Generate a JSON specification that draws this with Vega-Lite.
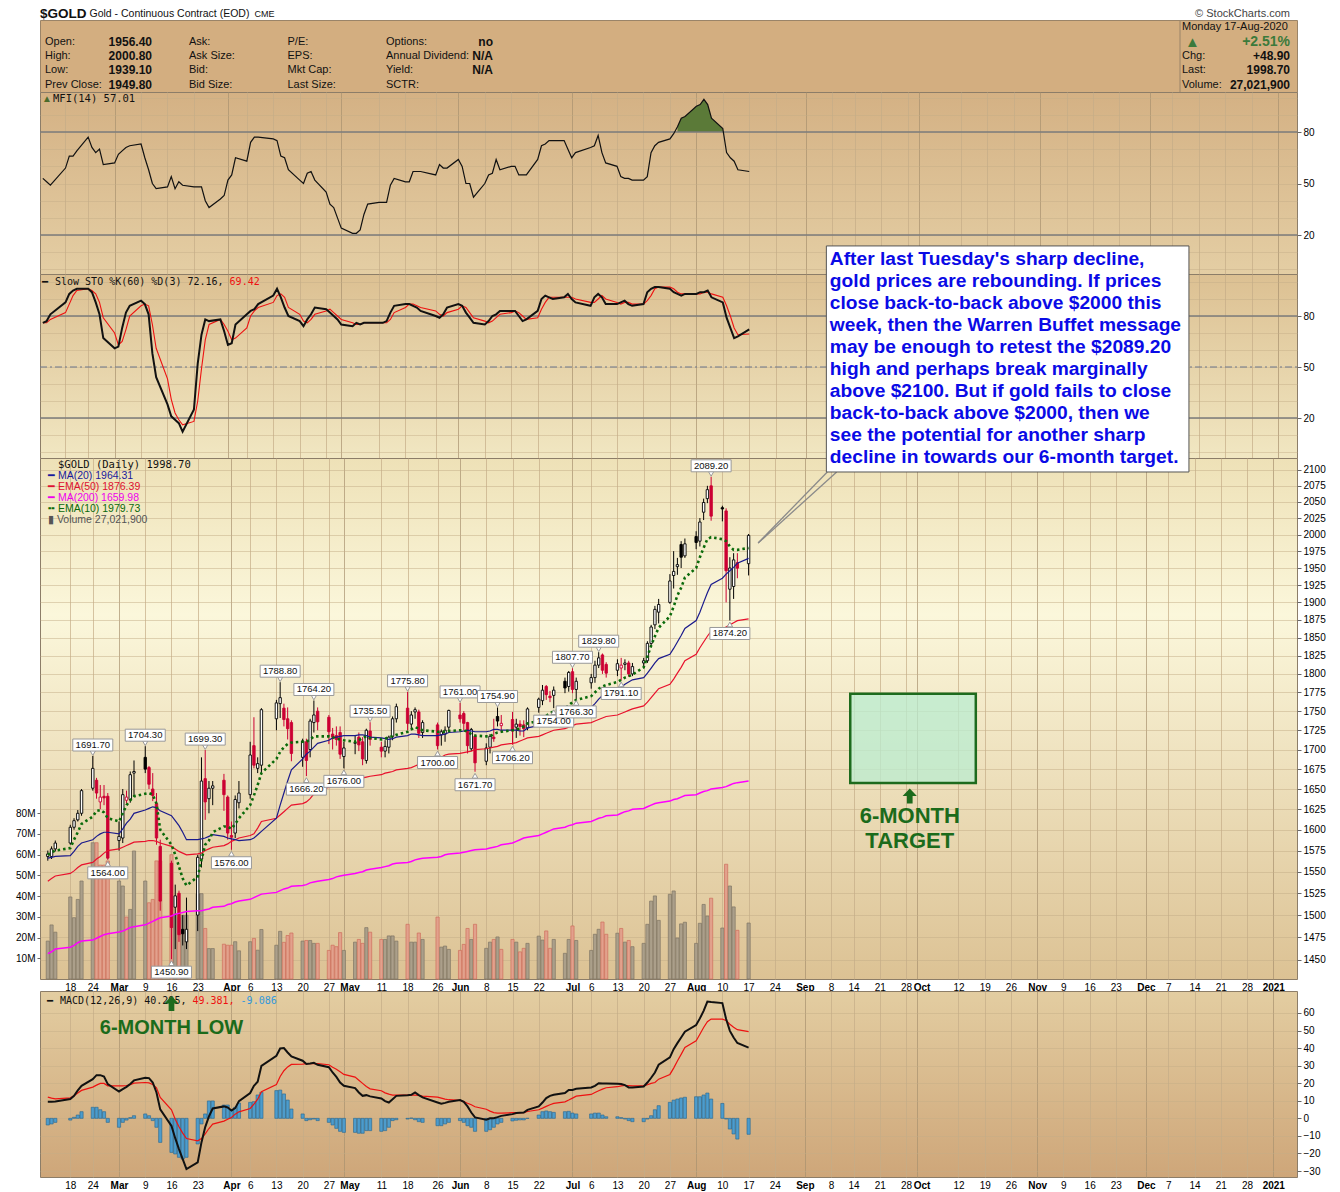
{
  "$schema": "https://vega.github.io/schema/vega-lite/v6.json",
  "background": "white",
  "padding": {"left": 15, "top": 6, "right": 14, "bottom": 0},
  "params": [
    {"name": "wk", "expr": "[utc(2020,1,18),utc(2020,1,24),utc(2020,2,2),utc(2020,2,9),utc(2020,2,16),utc(2020,2,23),utc(2020,3,1),utc(2020,3,6),utc(2020,3,13),utc(2020,3,20),utc(2020,3,27),utc(2020,4,1),utc(2020,4,11),utc(2020,4,18),utc(2020,4,26),utc(2020,5,1),utc(2020,5,8),utc(2020,5,15),utc(2020,5,22),utc(2020,6,1),utc(2020,6,6),utc(2020,6,13),utc(2020,6,20),utc(2020,6,27),utc(2020,7,3),utc(2020,7,10),utc(2020,7,17),utc(2020,7,24),utc(2020,8,1),utc(2020,8,8),utc(2020,8,14),utc(2020,8,21),utc(2020,8,28),utc(2020,9,1),utc(2020,9,12),utc(2020,9,19),utc(2020,9,26),utc(2020,10,2),utc(2020,10,9),utc(2020,10,16),utc(2020,10,23),utc(2020,11,1),utc(2020,11,7),utc(2020,11,14),utc(2020,11,21),utc(2020,11,28),utc(2021,0,4)]"}
  ],
  "config": {
    "font": "Liberation Sans",
    "axis": {"labelFont": "Liberation Sans", "labelFontSize": 10, "labelColor": "#000000", "domain": false, "tickColor": "#666666", "tickSize": 4, "labelPadding": 2, "labelOverlap": false},
    "view": {"stroke": "#8c7d68"},
    "text": {"font": "Liberation Sans"}
  },
  "datasets": {
    "gold": [
      {"date":"2020-02-12","open":1568,"high":1575,"low":1563,"close":1571,"volume":18.3,"ema10":1570,"ma20":1566,"ema50":1539,"ma200":1457,"mfi":53,"k":76,"d":76,"macd":9.4,"signal":12.1,"hist":-3.8},
      {"date":"2020-02-13","open":1568,"high":1580,"low":1565,"close":1577,"volume":26.1,"ema10":1573,"ma20":1567,"ema50":1542,"ma200":1459,"mfi":51,"k":77,"d":76,"macd":9.4,"signal":11.5,"hist":-3.2},
      {"date":"2020-02-14","open":1577,"high":1587,"low":1574,"close":1584,"volume":22.6,"ema10":1575,"ma20":1568,"ema50":1545,"ma200":1462,"mfi":49,"k":81,"d":78,"macd":9.6,"signal":11.1,"hist":-2.3},
      {"date":"2020-02-18","open":1584,"high":1606,"low":1582,"close":1603,"volume":39.6,"ema10":1578,"ma20":1569,"ema50":1548,"ma200":1464,"mfi":59,"k":88,"d":82,"macd":11,"signal":11.7,"hist":-1},
      {"date":"2020-02-19","open":1603,"high":1614,"low":1600,"close":1611,"volume":29.6,"ema10":1588,"ma20":1574,"ema50":1551,"ma200":1466,"mfi":66,"k":93,"d":87,"macd":12.8,"signal":12.8,"hist":0.6},
      {"date":"2020-02-20","open":1612,"high":1624,"low":1610,"close":1620,"volume":38.4,"ema10":1597,"ma20":1580,"ema50":1555,"ma200":1469,"mfi":66,"k":95,"d":92,"macd":15.9,"signal":14.4,"hist":1.9},
      {"date":"2020-02-21","open":1620,"high":1650,"low":1617,"close":1648,"volume":47.3,"ema10":1607,"ma20":1584,"ema50":1558,"ma200":1471,"mfi":69,"k":96,"d":95,"macd":18.5,"signal":15.9,"hist":3.8},
      {"date":"2020-02-24","open":1651,"high":1691.7,"low":1648,"close":1676,"volume":65.8,"ema10":1616,"ma20":1588,"ema50":1561,"ma200":1472,"mfi":77,"k":96,"d":96,"macd":22.3,"signal":17.8,"hist":6.3},
      {"date":"2020-02-25","open":1661,"high":1664,"low":1638,"close":1645,"volume":65.8,"ema10":1623,"ma20":1592,"ema50":1565,"ma200":1474,"mfi":71,"k":94,"d":95,"macd":24.6,"signal":18.9,"hist":6.3},
      {"date":"2020-02-26","open":1634,"high":1655,"low":1625,"close":1640,"volume":55,"ema10":1624,"ma20":1595,"ema50":1568,"ma200":1476,"mfi":68,"k":88,"d":93,"macd":24.6,"signal":19.9,"hist":4.9},
      {"date":"2020-02-27","open":1641,"high":1655,"low":1630,"close":1639,"volume":55,"ema10":1621,"ma20":1597,"ema50":1572,"ma200":1478,"mfi":70,"k":81,"d":88,"macd":23.8,"signal":19.9,"hist":3.8},
      {"date":"2020-02-28","open":1641,"high":1645,"low":1564,"close":1566,"volume":57,"ema10":1614,"ma20":1597,"ema50":1575,"ma200":1479,"mfi":61,"k":67,"d":79,"macd":19.5,"signal":18.5,"hist":-2.3},
      {"date":"2020-03-02","open":1587,"high":1610,"low":1575,"close":1592,"volume":47.3,"ema10":1610,"ma20":1595,"ema50":1577,"ma200":1481,"mfi":62,"k":61,"d":70,"macd":15.3,"signal":18.5,"hist":-5.1},
      {"date":"2020-03-03","open":1590,"high":1650,"low":1584,"close":1643,"volume":44.9,"ema10":1620,"ma20":1601,"ema50":1579,"ma200":1482,"mfi":67,"k":62,"d":63,"macd":16.6,"signal":18.5,"hist":-2.3},
      {"date":"2020-03-04","open":1636,"high":1648,"low":1632,"close":1640,"volume":29.9,"ema10":1630,"ma20":1608,"ema50":1581,"ma200":1484,"mfi":69,"k":73,"d":65,"macd":17.9,"signal":18.7,"hist":-1},
      {"date":"2020-03-05","open":1637,"high":1672,"low":1633,"close":1668,"volume":33.6,"ema10":1636,"ma20":1613,"ema50":1583,"ma200":1486,"mfi":71,"k":82,"d":72,"macd":19.6,"signal":19.1,"hist":0.4},
      {"date":"2020-03-06","open":1670,"high":1686,"low":1640,"close":1672,"volume":61.8,"ema10":1641,"ma20":1620,"ema50":1585,"ma200":1487,"mfi":72,"k":86,"d":80,"macd":21.6,"signal":20,"hist":1.5},
      {"date":"2020-03-09","open":1690,"high":1704.3,"low":1670,"close":1675,"volume":47.3,"ema10":1644,"ma20":1624,"ema50":1586,"ma200":1489,"mfi":73,"k":89,"d":86,"macd":23.1,"signal":20.4,"hist":2.5},
      {"date":"2020-03-10","open":1677,"high":1679,"low":1650,"close":1656,"volume":36.8,"ema10":1645,"ma20":1626,"ema50":1587,"ma200":1491,"mfi":65,"k":87,"d":87,"macd":22.9,"signal":20.2,"hist":1.5},
      {"date":"2020-03-11","open":1650,"high":1670,"low":1635,"close":1642,"volume":38.4,"ema10":1643,"ma20":1628,"ema50":1587,"ma200":1493,"mfi":58,"k":81,"d":86,"macd":20.4,"signal":19.3,"hist":-1.3},
      {"date":"2020-03-12","open":1632,"high":1645,"low":1582,"close":1590,"volume":57,"ema10":1632,"ma20":1627,"ema50":1586,"ma200":1495,"mfi":50,"k":58,"d":75,"macd":14.7,"signal":17.4,"hist":-5.1},
      {"date":"2020-03-13","open":1580,"high":1588,"low":1505,"close":1516,"volume":57,"ema10":1600,"ma20":1623,"ema50":1584,"ma200":1497,"mfi":47,"k":44,"d":61,"macd":5.1,"signal":11.9,"hist":-13.7},
      {"date":"2020-03-16","open":1560,"high":1563,"low":1450.9,"close":1486,"volume":60,"ema10":1582,"ma20":1617,"ema50":1580,"ma200":1499,"mfi":48,"k":28,"d":43,"macd":-4.3,"signal":4.9,"hist":-19.4},
      {"date":"2020-03-17","open":1509,"high":1535,"low":1462,"close":1522,"volume":31.2,"ema10":1570,"ma20":1611,"ema50":1577,"ma200":1501,"mfi":54,"k":21,"d":31,"macd":-11.3,"signal":-0.5,"hist":-20.3},
      {"date":"2020-03-18","open":1525,"high":1528,"low":1470,"close":1478,"volume":29.6,"ema10":1556,"ma20":1605,"ema50":1574,"ma200":1502,"mfi":47,"k":19,"d":23,"macd":-17.5,"signal":-4.8,"hist":-22.2},
      {"date":"2020-03-19","open":1484,"high":1500,"low":1466,"close":1479,"volume":30.8,"ema10":1542,"ma20":1597,"ema50":1572,"ma200":1503,"mfi":51,"k":17,"d":19,"macd":-23.2,"signal":-8.4,"hist":-23.2},
      {"date":"2020-03-20","open":1470,"high":1520,"low":1462,"close":1484,"volume":30.8,"ema10":1534,"ma20":1588,"ema50":1570,"ma200":1504,"mfi":49,"k":12,"d":16,"macd":-28.9,"signal":-11.5,"hist":-22.2},
      {"date":"2020-03-23","open":1500,"high":1570,"low":1482,"close":1567,"volume":41.2,"ema10":1544,"ma20":1588,"ema50":1571,"ma200":1505,"mfi":48,"k":25,"d":18,"macd":-25.1,"signal":-12.8,"hist":-14.6},
      {"date":"2020-03-24","open":1565,"high":1690,"low":1555,"close":1660,"volume":41.2,"ema10":1564,"ma20":1589,"ema50":1572,"ma200":1505,"mfi":48,"k":52,"d":30,"macd":-13.7,"signal":-11.5,"hist":-3.2},
      {"date":"2020-03-25","open":1663,"high":1699.3,"low":1612,"close":1634,"volume":24.4,"ema10":1582,"ma20":1590,"ema50":1575,"ma200":1506,"mfi":48,"k":69,"d":49,"macd":-5,"signal":-8.8,"hist":2.5},
      {"date":"2020-03-26","open":1638,"high":1660,"low":1620,"close":1651,"volume":14.7,"ema10":1587,"ma20":1592,"ema50":1577,"ma200":1507,"mfi":40,"k":78,"d":66,"macd":1.1,"signal":-5.8,"hist":9.9},
      {"date":"2020-03-27","open":1651,"high":1660,"low":1630,"close":1654,"volume":14.7,"ema10":1597,"ma20":1594,"ema50":1579,"ma200":1509,"mfi":36,"k":77,"d":75,"macd":5.6,"signal":-3.3,"hist":9.9},
      {"date":"2020-03-30","open":1661,"high":1669,"low":1623,"close":1643,"volume":16.8,"ema10":1604,"ma20":1592,"ema50":1581,"ma200":1510,"mfi":41,"k":78,"d":78,"macd":6.8,"signal":-1.6,"hist":7.6},
      {"date":"2020-03-31","open":1640,"high":1642,"low":1588,"close":1596,"volume":16.3,"ema10":1604,"ma20":1590,"ema50":1583,"ma200":1512,"mfi":43,"k":71,"d":75,"macd":6.2,"signal":-0.5,"hist":7.6},
      {"date":"2020-04-01","open":1593,"high":1610,"low":1576,"close":1591,"volume":16.3,"ema10":1601,"ma20":1589,"ema50":1586,"ma200":1513,"mfi":52,"k":63,"d":71,"macd":4.5,"signal":0.5,"hist":4.7},
      {"date":"2020-04-02","open":1596,"high":1642,"low":1590,"close":1637,"volume":18,"ema10":1607,"ma20":1588,"ema50":1588,"ma200":1515,"mfi":55,"k":64,"d":66,"macd":5.8,"signal":2.4,"hist":6.3},
      {"date":"2020-04-03","open":1633,"high":1660,"low":1626,"close":1645,"volume":13.6,"ema10":1614,"ma20":1587,"ema50":1590,"ma200":1516,"mfi":65,"k":75,"d":67,"macd":9.8,"signal":3.7,"hist":8.7},
      {"date":"2020-04-06","open":1643,"high":1710,"low":1638,"close":1693,"volume":18,"ema10":1630,"ma20":1588,"ema50":1593,"ma200":1518,"mfi":63,"k":81,"d":73,"macd":14.4,"signal":5.6,"hist":9.1},
      {"date":"2020-04-07","open":1705,"high":1742,"low":1676,"close":1680,"volume":19.6,"ema10":1642,"ma20":1590,"ema50":1595,"ma200":1520,"mfi":74,"k":83,"d":80,"macd":18.5,"signal":8.1,"hist":9.5},
      {"date":"2020-04-08","open":1676,"high":1690,"low":1670,"close":1682,"volume":13.9,"ema10":1655,"ma20":1594,"ema50":1602,"ma200":1522,"mfi":77,"k":84,"d":83,"macd":20.8,"signal":10.9,"hist":13.3},
      {"date":"2020-04-09","open":1680,"high":1754,"low":1668,"close":1752,"volume":23.9,"ema10":1670,"ma20":1598,"ema50":1610,"ma200":1524,"mfi":77,"k":87,"d":85,"macd":29.9,"signal":15.1,"hist":14.8},
      {"date":"2020-04-13","open":1740,"high":1765,"low":1725,"close":1761,"volume":16.3,"ema10":1688,"ma20":1614,"ema50":1614,"ma200":1526,"mfi":76,"k":92,"d":88,"macd":35.6,"signal":19.3,"hist":15.8},
      {"date":"2020-04-14","open":1760,"high":1788.8,"low":1741,"close":1768,"volume":23,"ema10":1697,"ma20":1630,"ema50":1618,"ma200":1528,"mfi":75,"k":96,"d":92,"macd":39.8,"signal":23.8,"hist":16.1},
      {"date":"2020-04-15","open":1754,"high":1760,"low":1730,"close":1739,"volume":17.7,"ema10":1703,"ma20":1645,"ema50":1622,"ma200":1530,"mfi":66,"k":91,"d":93,"macd":40,"signal":27.1,"hist":13.9},
      {"date":"2020-04-16","open":1740,"high":1755,"low":1713,"close":1727,"volume":21,"ema10":1707,"ma20":1660,"ema50":1626,"ma200":1531,"mfi":65,"k":85,"d":91,"macd":37.5,"signal":29.3,"hist":10.4},
      {"date":"2020-04-17","open":1735,"high":1738,"low":1685,"close":1695,"volume":22.2,"ema10":1709,"ma20":1674,"ema50":1630,"ma200":1533,"mfi":58,"k":80,"d":85,"macd":35.2,"signal":30.7,"hist":5.3},
      {"date":"2020-04-20","open":1690,"high":1714,"low":1678,"close":1711,"volume":18.3,"ema10":1710,"ma20":1688,"ema50":1632,"ma200":1534,"mfi":52,"k":77,"d":81,"macd":32.8,"signal":30.9,"hist":2.5},
      {"date":"2020-04-21","open":1710,"high":1714,"low":1666.2,"close":1686,"volume":18.6,"ema10":1710,"ma20":1694,"ema50":1634,"ma200":1535,"mfi":50,"k":74,"d":77,"macd":30.9,"signal":31.1,"hist":-1.3},
      {"date":"2020-04-22","open":1700,"high":1740,"low":1690,"close":1737,"volume":18.6,"ema10":1713,"ma20":1698,"ema50":1638,"ma200":1537,"mfi":56,"k":78,"d":76,"macd":31.2,"signal":31.2,"hist":-0.8},
      {"date":"2020-04-23","open":1735,"high":1764.2,"low":1722,"close":1745,"volume":17.2,"ema10":1717,"ma20":1703,"ema50":1644,"ma200":1538,"mfi":57,"k":81,"d":78,"macd":31.6,"signal":31.2,"hist":-0.4},
      {"date":"2020-04-24","open":1750,"high":1755,"low":1725,"close":1736,"volume":17.2,"ema10":1717,"ma20":1708,"ema50":1649,"ma200":1539,"mfi":52,"k":85,"d":81,"macd":30.5,"signal":31.1,"hist":-1.3},
      {"date":"2020-04-27","open":1742,"high":1745,"low":1707,"close":1723,"volume":13.8,"ema10":1717,"ma20":1712,"ema50":1652,"ma200":1541,"mfi":45,"k":84,"d":83,"macd":29.1,"signal":30.5,"hist":-2.3},
      {"date":"2020-04-28","open":1720,"high":1728,"low":1700,"close":1716,"volume":16.3,"ema10":1716,"ma20":1715,"ema50":1654,"ma200":1542,"mfi":38,"k":82,"d":84,"macd":26.1,"signal":29.1,"hist":-3.8},
      {"date":"2020-04-29","open":1718,"high":1730,"low":1705,"close":1713,"volume":15.6,"ema10":1714,"ma20":1716,"ema50":1656,"ma200":1544,"mfi":36,"k":80,"d":82,"macd":23.6,"signal":28,"hist":-5.7},
      {"date":"2020-04-30","open":1722,"high":1730,"low":1688,"close":1694,"volume":22.4,"ema10":1713,"ma20":1717,"ema50":1658,"ma200":1545,"mfi":30,"k":78,"d":80,"macd":20.4,"signal":26.5,"hist":-7.4},
      {"date":"2020-05-01","open":1691,"high":1710,"low":1676,"close":1702,"volume":13.8,"ema10":1712,"ma20":1718,"ema50":1660,"ma200":1546,"mfi":24,"k":75,"d":78,"macd":18.5,"signal":25,"hist":-8},
      {"date":"2020-05-04","open":1708,"high":1718,"low":1694,"close":1709,"volume":17.8,"ema10":1710,"ma20":1718,"ema50":1661,"ma200":1548,"mfi":21,"k":74,"d":76,"macd":17.2,"signal":23.5,"hist":-8},
      {"date":"2020-05-05","open":1716,"high":1722,"low":1698,"close":1706,"volume":19.1,"ema10":1712,"ma20":1719,"ema50":1663,"ma200":1549,"mfi":21,"k":76,"d":75,"macd":14.7,"signal":21.7,"hist":-8.5},
      {"date":"2020-05-06","open":1710,"high":1716,"low":1680,"close":1688,"volume":17.2,"ema10":1715,"ma20":1719,"ema50":1664,"ma200":1550,"mfi":23,"k":75,"d":75,"macd":12.8,"signal":19.9,"hist":-8.5},
      {"date":"2020-05-07","open":1686,"high":1727,"low":1682,"close":1725,"volume":24.8,"ema10":1717,"ma20":1718,"ema50":1665,"ma200":1552,"mfi":32,"k":76,"d":76,"macd":13.2,"signal":18.1,"hist":-7},
      {"date":"2020-05-08","open":1724,"high":1735.5,"low":1705,"close":1713,"volume":22.6,"ema10":1715,"ma20":1716,"ema50":1666,"ma200":1553,"mfi":38,"k":76,"d":76,"macd":12.5,"signal":16.8,"hist":-7},
      {"date":"2020-05-11","open":1703,"high":1710,"low":1690,"close":1698,"volume":19.1,"ema10":1713,"ma20":1715,"ema50":1668,"ma200":1555,"mfi":39,"k":76,"d":76,"macd":11.3,"signal":15.7,"hist":-7.4},
      {"date":"2020-05-12","open":1698,"high":1712,"low":1690,"close":1704,"volume":19.1,"ema10":1714,"ma20":1714,"ema50":1670,"ma200":1556,"mfi":39,"k":76,"d":76,"macd":9.8,"signal":14.5,"hist":-7},
      {"date":"2020-05-13","open":1703,"high":1718,"low":1695,"close":1716,"volume":20.8,"ema10":1716,"ma20":1713,"ema50":1671,"ma200":1557,"mfi":39,"k":77,"d":76,"macd":9,"signal":13.8,"hist":-5.1},
      {"date":"2020-05-14","open":1717,"high":1743,"low":1712,"close":1740,"volume":20.8,"ema10":1717,"ma20":1714,"ema50":1672,"ma200":1559,"mfi":49,"k":82,"d":78,"macd":10.9,"signal":13.2,"hist":-1.3},
      {"date":"2020-05-15","open":1740,"high":1760,"low":1735,"close":1756,"volume":18.3,"ema10":1719,"ma20":1716,"ema50":1674,"ma200":1560,"mfi":53,"k":86,"d":82,"macd":12.8,"signal":13.2,"hist":-0.8},
      {"date":"2020-05-18","open":1754,"high":1775.8,"low":1725,"close":1734,"volume":26.4,"ema10":1723,"ma20":1718,"ema50":1676,"ma200":1561,"mfi":51,"k":87,"d":85,"macd":13.2,"signal":13.2,"hist":-0.4},
      {"date":"2020-05-19","open":1733,"high":1750,"low":1725,"close":1745,"volume":17.8,"ema10":1726,"ma20":1720,"ema50":1677,"ma200":1562,"mfi":51,"k":87,"d":87,"macd":13.4,"signal":13.2,"hist":0.2},
      {"date":"2020-05-20","open":1749,"high":1755,"low":1740,"close":1752,"volume":17.8,"ema10":1729,"ma20":1720,"ema50":1679,"ma200":1564,"mfi":57,"k":86,"d":87,"macd":14.7,"signal":13.2,"hist":-0.8},
      {"date":"2020-05-21","open":1749,"high":1752,"low":1715,"close":1721,"volume":22.2,"ema10":1727,"ma20":1719,"ema50":1681,"ma200":1565,"mfi":57,"k":85,"d":86,"macd":13.2,"signal":13,"hist":-1.9},
      {"date":"2020-05-22","open":1722,"high":1738,"low":1715,"close":1735,"volume":19.1,"ema10":1725,"ma20":1718,"ema50":1684,"ma200":1566,"mfi":57,"k":83,"d":85,"macd":11.9,"signal":12.6,"hist":-2.3},
      {"date":"2020-05-26","open":1732,"high":1735,"low":1700,"close":1705,"volume":29.9,"ema10":1723,"ma20":1718,"ema50":1687,"ma200":1567,"mfi":55,"k":80,"d":83,"macd":9,"signal":12.1,"hist":-4.2},
      {"date":"2020-05-27","open":1719,"high":1726,"low":1705,"close":1723,"volume":15.4,"ema10":1723,"ma20":1719,"ema50":1690,"ma200":1568,"mfi":61,"k":79,"d":81,"macd":8.3,"signal":11.5,"hist":-4.2},
      {"date":"2020-05-28","open":1720,"high":1730,"low":1710,"close":1725,"volume":15.9,"ema10":1723,"ma20":1720,"ema50":1693,"ma200":1570,"mfi":59,"k":81,"d":80,"macd":8.8,"signal":10.9,"hist":-3.2},
      {"date":"2020-05-29","open":1729,"high":1752,"low":1725,"close":1751,"volume":14.3,"ema10":1724,"ma20":1722,"ema50":1694,"ma200":1571,"mfi":59,"k":85,"d":82,"macd":9.4,"signal":10.6,"hist":-2.3},
      {"date":"2020-06-01","open":1745,"high":1761,"low":1735,"close":1740,"volume":13.8,"ema10":1725,"ma20":1723,"ema50":1695,"ma200":1572,"mfi":64,"k":87,"d":84,"macd":10.4,"signal":10.2,"hist":-1.3},
      {"date":"2020-06-02","open":1747,"high":1750,"low":1725,"close":1734,"volume":16.7,"ema10":1725,"ma20":1724,"ema50":1696,"ma200":1573,"mfi":60,"k":86,"d":86,"macd":9.4,"signal":9.6,"hist":-2.3},
      {"date":"2020-06-03","open":1735,"high":1736,"low":1695,"close":1705,"volume":24.4,"ema10":1723,"ma20":1725,"ema50":1697,"ma200":1574,"mfi":50,"k":82,"d":85,"macd":6.8,"signal":8.6,"hist":-4.2},
      {"date":"2020-06-04","open":1701,"high":1728,"low":1698,"close":1726,"volume":19.1,"ema10":1720,"ma20":1724,"ema50":1698,"ma200":1575,"mfi":50,"k":79,"d":82,"macd":3.3,"signal":7.7,"hist":-5.1},
      {"date":"2020-06-05","open":1717,"high":1720,"low":1671.7,"close":1683,"volume":26.4,"ema10":1718,"ma20":1723,"ema50":1700,"ma200":1576,"mfi":42,"k":76,"d":79,"macd":0.5,"signal":6.6,"hist":-7.4},
      {"date":"2020-06-08","open":1685,"high":1708,"low":1680,"close":1702,"volume":14.8,"ema10":1717,"ma20":1723,"ema50":1701,"ma200":1577,"mfi":50,"k":75,"d":77,"macd":-0.8,"signal":5.2,"hist":-7.4},
      {"date":"2020-06-09","open":1703,"high":1720,"low":1695,"close":1717,"volume":17.8,"ema10":1717,"ma20":1724,"ema50":1702,"ma200":1578,"mfi":55,"k":77,"d":76,"macd":0,"signal":4.1,"hist":-6.5},
      {"date":"2020-06-10","open":1716,"high":1740,"low":1710,"close":1714,"volume":19.1,"ema10":1720,"ma20":1726,"ema50":1703,"ma200":1579,"mfi":56,"k":80,"d":77,"macd":0.1,"signal":3.3,"hist":-5.1},
      {"date":"2020-06-11","open":1743,"high":1754.9,"low":1730,"close":1737,"volume":20.3,"ema10":1722,"ma20":1726,"ema50":1704,"ma200":1580,"mfi":64,"k":81,"d":79,"macd":0.7,"signal":3,"hist":-3.2},
      {"date":"2020-06-12","open":1731,"high":1745,"low":1722,"close":1734,"volume":14.3,"ema10":1723,"ma20":1725,"ema50":1706,"ma200":1582,"mfi":58,"k":83,"d":81,"macd":1.4,"signal":3,"hist":-2.3},
      {"date":"2020-06-15","open":1739,"high":1749,"low":1706.2,"close":1724,"volume":19.1,"ema10":1725,"ma20":1725,"ema50":1708,"ma200":1584,"mfi":60,"k":83,"d":82,"macd":2.4,"signal":3.2,"hist":-1.5},
      {"date":"2020-06-16","open":1729,"high":1740,"low":1715,"close":1733,"volume":17.8,"ema10":1726,"ma20":1725,"ema50":1709,"ma200":1586,"mfi":60,"k":83,"d":83,"macd":3,"signal":3.2,"hist":-1.1},
      {"date":"2020-06-17","open":1733,"high":1738,"low":1718,"close":1730,"volume":13.1,"ema10":1727,"ma20":1724,"ema50":1711,"ma200":1588,"mfi":55,"k":80,"d":82,"macd":3.2,"signal":3.3,"hist":-0.9},
      {"date":"2020-06-18","open":1732,"high":1738,"low":1716,"close":1727,"volume":14.8,"ema10":1730,"ma20":1724,"ema50":1713,"ma200":1590,"mfi":55,"k":77,"d":80,"macd":3.3,"signal":3.3,"hist":-0.9},
      {"date":"2020-06-19","open":1728,"high":1755,"low":1725,"close":1753,"volume":17.2,"ema10":1734,"ma20":1728,"ema50":1715,"ma200":1591,"mfi":55,"k":78,"d":78,"macd":4.8,"signal":3.9,"hist":0},
      {"date":"2020-06-22","open":1755,"high":1768,"low":1748,"close":1766,"volume":20.7,"ema10":1737,"ma20":1731,"ema50":1717,"ma200":1593,"mfi":64,"k":83,"d":79,"macd":6.8,"signal":4.9,"hist":1.9},
      {"date":"2020-06-23","open":1764,"high":1785,"low":1758,"close":1778,"volume":18.8,"ema10":1740,"ma20":1734,"ema50":1719,"ma200":1595,"mfi":72,"k":90,"d":84,"macd":9,"signal":5.8,"hist":3.8},
      {"date":"2020-06-24","open":1783,"high":1785,"low":1765,"close":1772,"volume":23.2,"ema10":1744,"ma20":1736,"ema50":1721,"ma200":1597,"mfi":73,"k":92,"d":88,"macd":11.5,"signal":6.8,"hist":4.2},
      {"date":"2020-06-25","open":1770,"high":1777,"low":1762,"close":1768,"volume":14.8,"ema10":1747,"ma20":1738,"ema50":1723,"ma200":1599,"mfi":75,"k":91,"d":91,"macd":12.8,"signal":7.7,"hist":3.8},
      {"date":"2020-06-26","open":1771,"high":1783,"low":1754,"close":1778,"volume":19.1,"ema10":1750,"ma20":1740,"ema50":1725,"ma200":1601,"mfi":75,"k":90,"d":91,"macd":13.4,"signal":8.5,"hist":3.4},
      {"date":"2020-06-29","open":1790,"high":1795,"low":1774,"close":1781,"volume":12.4,"ema10":1753,"ma20":1742,"ema50":1727,"ma200":1603,"mfi":75,"k":91,"d":91,"macd":14.4,"signal":9.4,"hist":3.8},
      {"date":"2020-06-30","open":1783,"high":1804,"low":1776,"close":1802,"volume":19.1,"ema10":1758,"ma20":1745,"ema50":1729,"ma200":1605,"mfi":70,"k":93,"d":91,"macd":16.1,"signal":10.4,"hist":4},
      {"date":"2020-07-01","open":1803,"high":1807.7,"low":1774,"close":1779,"volume":25.6,"ema10":1762,"ma20":1748,"ema50":1731,"ma200":1606,"mfi":65,"k":90,"d":91,"macd":16.2,"signal":11.5,"hist":3},
      {"date":"2020-07-02","open":1779,"high":1795,"low":1766.3,"close":1790,"volume":18.6,"ema10":1765,"ma20":1752,"ema50":1733,"ma200":1608,"mfi":68,"k":88,"d":90,"macd":16.8,"signal":12.6,"hist":2.5},
      {"date":"2020-07-06","open":1788,"high":1800,"low":1780,"close":1795,"volume":13.8,"ema10":1770,"ma20":1755,"ema50":1735,"ma200":1610,"mfi":71,"k":86,"d":88,"macd":17.6,"signal":13.6,"hist":2.5},
      {"date":"2020-07-07","open":1795,"high":1818,"low":1788,"close":1812,"volume":21.6,"ema10":1775,"ma20":1760,"ema50":1737,"ma200":1612,"mfi":72,"k":91,"d":88,"macd":18.5,"signal":14.7,"hist":3},
      {"date":"2020-07-08","open":1812,"high":1829.8,"low":1808,"close":1822,"volume":24,"ema10":1780,"ma20":1766,"ema50":1739,"ma200":1614,"mfi":78,"k":93,"d":90,"macd":20,"signal":15.7,"hist":3},
      {"date":"2020-07-09","open":1826,"high":1828,"low":1800,"close":1805,"volume":27.5,"ema10":1783,"ma20":1771,"ema50":1741,"ma200":1615,"mfi":68,"k":91,"d":92,"macd":19.9,"signal":16.6,"hist":1.9},
      {"date":"2020-07-10","open":1813,"high":1816,"low":1795,"close":1801,"volume":21.6,"ema10":1785,"ma20":1775,"ema50":1743,"ma200":1617,"mfi":62,"k":87,"d":90,"macd":19.9,"signal":17.4,"hist":0.9},
      {"date":"2020-07-13","open":1805,"high":1820,"low":1797,"close":1814,"volume":22.1,"ema10":1789,"ma20":1778,"ema50":1745,"ma200":1618,"mfi":60,"k":87,"d":88,"macd":19.7,"signal":18,"hist":0.9},
      {"date":"2020-07-14","open":1808,"high":1822,"low":1791.1,"close":1812,"volume":24.4,"ema10":1792,"ma20":1782,"ema50":1747,"ma200":1620,"mfi":54,"k":88,"d":87,"macd":19.5,"signal":18.5,"hist":0.4},
      {"date":"2020-07-15","open":1813,"high":1820,"low":1805,"close":1815,"volume":17.8,"ema10":1795,"ma20":1786,"ema50":1749,"ma200":1622,"mfi":53,"k":89,"d":88,"macd":18.9,"signal":18.7,"hist":-0.4},
      {"date":"2020-07-16","open":1815,"high":1818,"low":1796,"close":1800,"volume":18.6,"ema10":1797,"ma20":1789,"ema50":1751,"ma200":1623,"mfi":53,"k":87,"d":88,"macd":17.6,"signal":18.7,"hist":-1.3},
      {"date":"2020-07-17","open":1800,"high":1815,"low":1797,"close":1810,"volume":15.6,"ema10":1799,"ma20":1792,"ema50":1753,"ma200":1625,"mfi":52,"k":86,"d":87,"macd":17.6,"signal":18.5,"hist":-1.9},
      {"date":"2020-07-20","open":1815,"high":1822,"low":1808,"close":1818,"volume":17.2,"ema10":1809,"ma20":1795,"ema50":1757,"ma200":1626,"mfi":52,"k":87,"d":87,"macd":18.1,"signal":18.5,"hist":-1.9},
      {"date":"2020-07-21","open":1818,"high":1845,"low":1815,"close":1842,"volume":26.4,"ema10":1824,"ma20":1801,"ema50":1762,"ma200":1628,"mfi":54,"k":94,"d":89,"macd":20.4,"signal":19.1,"hist":-0.4},
      {"date":"2020-07-22","open":1842,"high":1868,"low":1838,"close":1865,"volume":37.6,"ema10":1839,"ma20":1808,"ema50":1768,"ma200":1630,"mfi":68,"k":96,"d":92,"macd":23.1,"signal":19.9,"hist":1.5},
      {"date":"2020-07-23","open":1868,"high":1895,"low":1862,"close":1890,"volume":40.1,"ema10":1852,"ma20":1815,"ema50":1774,"ma200":1632,"mfi":72,"k":97,"d":96,"macd":26.1,"signal":20.4,"hist":4.9},
      {"date":"2020-07-24","open":1886,"high":1905,"low":1870,"close":1897,"volume":28.3,"ema10":1864,"ma20":1821,"ema50":1780,"ma200":1633,"mfi":74,"k":97,"d":97,"macd":30.5,"signal":22.3,"hist":7.2},
      {"date":"2020-07-27","open":1900,"high":1941,"low":1898,"close":1931,"volume":40.9,"ema10":1880,"ma20":1827,"ema50":1786,"ma200":1635,"mfi":76,"k":96,"d":97,"macd":34.7,"signal":25,"hist":9.1},
      {"date":"2020-07-28","open":1939,"high":1975,"low":1920,"close":1945,"volume":42.5,"ema10":1894,"ma20":1835,"ema50":1793,"ma200":1637,"mfi":79,"k":94,"d":96,"macd":39.4,"signal":28.6,"hist":10.4},
      {"date":"2020-07-29","open":1952,"high":1965,"low":1940,"close":1955,"volume":19.8,"ema10":1910,"ma20":1844,"ema50":1801,"ma200":1638,"mfi":83,"k":93,"d":94,"macd":42.8,"signal":32.6,"hist":11},
      {"date":"2020-07-30","open":1985,"high":1990,"low":1950,"close":1966,"volume":26.6,"ema10":1921,"ma20":1853,"ema50":1809,"ma200":1640,"mfi":88,"k":92,"d":93,"macd":46,"signal":36.4,"hist":11.6},
      {"date":"2020-07-31","open":1968,"high":1994,"low":1965,"close":1986,"volume":27.4,"ema10":1936,"ma20":1863,"ema50":1818,"ma200":1642,"mfi":89,"k":93,"d":93,"macd":49.3,"signal":40.4,"hist":12},
      {"date":"2020-08-03","open":1997,"high":2005,"low":1978,"close":1988,"volume":17.2,"ema10":1950,"ma20":1874,"ema50":1827,"ma200":1643,"mfi":95,"k":93,"d":93,"macd":53.1,"signal":44.1,"hist":12.3},
      {"date":"2020-08-04","open":1990,"high":2025,"low":1982,"close":2019,"volume":26.9,"ema10":1966,"ma20":1886,"ema50":1836,"ma200":1645,"mfi":96,"k":94,"d":93,"macd":56.9,"signal":47.9,"hist":12.3},
      {"date":"2020-08-05","open":2034,"high":2055,"low":2022,"close":2049,"volume":36,"ema10":1980,"ma20":1900,"ema50":1844,"ma200":1647,"mfi":99,"k":94,"d":94,"macd":61.2,"signal":51.7,"hist":13.3},
      {"date":"2020-08-06","open":2055,"high":2075,"low":2048,"close":2069,"volume":30.4,"ema10":1993,"ma20":1914,"ema50":1852,"ma200":1648,"mfi":96,"k":95,"d":94,"macd":66.5,"signal":55,"hist":14.4},
      {"date":"2020-08-07","open":2075,"high":2089.2,"low":2021,"close":2028,"volume":39,"ema10":1996,"ma20":1926,"ema50":1859,"ma200":1650,"mfi":88,"k":91,"d":93,"macd":66.2,"signal":56.5,"hist":11},
      {"date":"2020-08-10","open":2041,"high":2044,"low":2020,"close":2039,"volume":24.6,"ema10":1993,"ma20":1935,"ema50":1862,"ma200":1652,"mfi":82,"k":88,"d":91,"macd":65.6,"signal":56.5,"hist":8.5},
      {"date":"2020-08-11","open":2036,"high":2040,"low":1900,"close":1946,"volume":55.4,"ema10":1990,"ma20":1941,"ema50":1865,"ma200":1653,"mfi":68,"k":79,"d":86,"macd":56.5,"signal":55.7,"hist":-0.4},
      {"date":"2020-08-12","open":1919,"high":1966,"low":1874.2,"close":1950,"volume":44.9,"ema10":1982,"ma20":1946,"ema50":1868,"ma200":1655,"mfi":65,"k":73,"d":80,"macd":49.8,"signal":53.6,"hist":-6.1},
      {"date":"2020-08-13","open":1923,"high":1972,"low":1905,"close":1962,"volume":34.8,"ema10":1977,"ma20":1951,"ema50":1871,"ma200":1657,"mfi":63,"k":67,"d":73,"macd":46,"signal":51.9,"hist":-8.9},
      {"date":"2020-08-14","open":1958,"high":1972,"low":1935,"close":1949.8,"volume":23.5,"ema10":1977,"ma20":1957,"ema50":1874,"ma200":1658,"mfi":58,"k":68,"d":69,"macd":42.9,"signal":50.5,"hist":-11.8},
      {"date":"2020-08-17","open":1956.4,"high":2000.8,"low":1939.1,"close":1998.7,"volume":27.02,"ema10":1979.7,"ma20":1964.3,"ema50":1876.4,"ma200":1660,"mfi":57.01,"k":72.16,"d":69.42,"macd":40.3,"signal":49.38,"hist":-9.09}
    ],
    "hilo": [
      {"date":"2020-02-24","price":1691.7,"kind":"hi"},
      {"date":"2020-03-09","price":1704.3,"kind":"hi"},
      {"date":"2020-03-25","price":1699.3,"kind":"hi"},
      {"date":"2020-04-14","price":1788.8,"kind":"hi"},
      {"date":"2020-04-23","price":1764.2,"kind":"hi"},
      {"date":"2020-05-08","price":1735.5,"kind":"hi"},
      {"date":"2020-05-18","price":1775.8,"kind":"hi"},
      {"date":"2020-06-01","price":1761.0,"kind":"hi"},
      {"date":"2020-06-11","price":1754.9,"kind":"hi"},
      {"date":"2020-07-01","price":1807.7,"kind":"hi"},
      {"date":"2020-07-08","price":1829.8,"kind":"hi"},
      {"date":"2020-08-07","price":2089.2,"kind":"hi"},
      {"date":"2020-02-28","price":1564.0,"kind":"lo"},
      {"date":"2020-03-16","price":1450.9,"kind":"lo"},
      {"date":"2020-04-01","price":1576.0,"kind":"lo"},
      {"date":"2020-04-21","price":1666.2,"kind":"lo"},
      {"date":"2020-05-01","price":1676.0,"kind":"lo"},
      {"date":"2020-05-26","price":1700.0,"kind":"lo"},
      {"date":"2020-06-05","price":1671.7,"kind":"lo"},
      {"date":"2020-06-15","price":1706.2,"kind":"lo"},
      {"date":"2020-06-26","price":1754.0,"kind":"lo"},
      {"date":"2020-07-02","price":1766.3,"kind":"lo"},
      {"date":"2020-07-14","price":1791.1,"kind":"lo"},
      {"date":"2020-08-12","price":1874.2,"kind":"lo"}
    ],
    "hdr": [
      {"g":"a","r":1,"lab":"Open:","val":"1956.40"},
      {"g":"a","r":2,"lab":"High:","val":"2000.80"},
      {"g":"a","r":3,"lab":"Low:","val":"1939.10"},
      {"g":"a","r":4,"lab":"Prev Close:","val":"1949.80"},
      {"g":"b","r":1,"lab":"Ask:"},
      {"g":"b","r":2,"lab":"Ask Size:"},
      {"g":"b","r":3,"lab":"Bid:"},
      {"g":"b","r":4,"lab":"Bid Size:"},
      {"g":"c","r":1,"lab":"P/E:"},
      {"g":"c","r":2,"lab":"EPS:"},
      {"g":"c","r":3,"lab":"Mkt Cap:"},
      {"g":"c","r":4,"lab":"Last Size:"},
      {"g":"d","r":1,"lab":"Options:","val":"no"},
      {"g":"d","r":2,"lab":"Annual Dividend:","val":"N/A"},
      {"g":"d","r":3,"lab":"Yield:","val":"N/A"},
      {"g":"d","r":4,"lab":"SCTR:"}
    ],
    "hdrR": [
      {"r":0,"lab":"Monday  17-Aug-2020"},
      {"r":2,"lab":"Chg:","val":"+48.90"},
      {"r":3,"lab":"Last:","val":"1998.70"},
      {"r":4,"lab":"Volume:","val":"27,021,900"}
    ]
  },
  "bounds": "flush",
  "spacing": 0,
  "vconcat": [
    {
      "width": 1257,
      "height": 72,
      "view": {"fill": "#d3ae80", "stroke": "#9a8468"},
      "resolve": {"scale": {"x": "independent"}},
      "layer": [
        {
          "data": {"name": "hdr"},
          "encoding": {
            "x": {"field": "g", "type": "ordinal", "scale": {"type": "point", "domain": ["a", "b", "c", "d"], "range": [50.5, 346], "padding": 0}, "axis": null},
            "y": {"field": "r", "type": "ordinal", "scale": {"type": "point", "domain": [-1, 0, 1, 2, 3, 4], "range": [-7.2, 64.8], "padding": 0}, "axis": null}
          },
          "layer": [
            {"transform": [{"filter": "datum.g == 'a'"}], "mark": {"type": "text", "align": "left", "baseline": "middle", "dx": -45.5, "fontSize": 11, "color": "#111111"}, "encoding": {"text": {"field": "lab"}}},
            {"transform": [{"filter": "datum.g != 'a'"}], "mark": {"type": "text", "align": "left", "baseline": "middle", "fontSize": 11, "color": "#111111"}, "encoding": {"text": {"field": "lab"}}},
            {"transform": [{"filter": "datum.g == 'a'"}], "mark": {"type": "text", "align": "right", "baseline": "middle", "dx": 61.5, "fontSize": 12, "fontWeight": "bold", "color": "#111111"}, "encoding": {"text": {"field": "val"}}},
            {"transform": [{"filter": "datum.g == 'd' && datum.val"}], "mark": {"type": "text", "align": "right", "baseline": "middle", "dx": 107, "fontSize": 12, "fontWeight": "bold", "color": "#111111"}, "encoding": {"text": {"field": "val"}}},
            {"data": {"values": [{}]}, "mark": {"type": "text", "align": "left", "baseline": "middle", "dx": -50.5, "dy": 1, "fontSize": 13.5, "fontWeight": "bold", "color": "#111111"}, "encoding": {"x": {"datum": "a"}, "y": {"datum": -1}, "text": {"value": "$GOLD"}}},
            {"data": {"values": [{}]}, "mark": {"type": "text", "align": "left", "baseline": "middle", "dx": -1, "dy": 1, "fontSize": 10.5, "color": "#111111"}, "encoding": {"x": {"datum": "a"}, "y": {"datum": -1}, "text": {"value": "Gold - Continuous Contract (EOD)"}}},
            {"data": {"values": [{}]}, "mark": {"type": "text", "align": "left", "baseline": "middle", "dx": 164, "dy": 1, "fontSize": 9, "color": "#111111"}, "encoding": {"x": {"datum": "a"}, "y": {"datum": -1}, "text": {"value": "CME"}}}
          ]
        },
        {
          "data": {"name": "hdrR"},
          "encoding": {
            "x": {"datum": "L", "type": "ordinal", "scale": {"type": "point", "domain": ["L", "R"], "range": [1142, 1250], "padding": 0}, "axis": null}
          },
          "layer": [
            {"data": {"values": [{}]}, "mark": {"type": "rule", "color": "#9a8468", "strokeWidth": 1, "xOffset": -2}, "encoding": {}},
            {"mark": {"type": "text", "align": "left", "baseline": "middle", "fontSize": 11, "color": "#111111"}, "encoding": {"y": {"field": "r", "type": "ordinal", "scale": {"type": "point", "domain": [-1, 0, 1, 2, 3, 4], "range": [-7.2, 64.8], "padding": 0}, "axis": null}, "text": {"field": "lab"}}},
            {"transform": [{"filter": "datum.val"}], "mark": {"type": "text", "align": "right", "baseline": "middle", "fontSize": 12, "fontWeight": "bold", "color": "#111111"}, "encoding": {"x": {"datum": "R", "type": "ordinal"}, "y": {"field": "r", "type": "ordinal"}, "text": {"field": "val"}}},
            {"data": {"values": [{}]}, "mark": {"type": "text", "align": "left", "baseline": "middle", "dx": 3, "fontSize": 15, "color": "#3b7a3b"}, "encoding": {"y": {"datum": 1, "type": "ordinal"}, "text": {"value": "▲"}}},
            {"data": {"values": [{}]}, "mark": {"type": "text", "align": "right", "baseline": "middle", "fontSize": 14, "fontWeight": "bold", "color": "#3b7a3b"}, "encoding": {"x": {"datum": "R", "type": "ordinal"}, "y": {"datum": 1, "type": "ordinal"}, "text": {"value": "+2.51%"}}},
            {"data": {"values": [{}]}, "mark": {"type": "text", "align": "right", "baseline": "middle", "dy": 1, "fontSize": 11, "color": "#444444"}, "encoding": {"x": {"datum": "R", "type": "ordinal"}, "y": {"datum": -1, "type": "ordinal"}, "text": {"value": "© StockCharts.com"}}}
          ]
        }
      ]
    },
    {
      "width": 1257,
      "height": 182,
      "view": {"stroke": "#8c7d68", "fill": {"expr": "{gradient: 'linear', x1: 0, y1: 0, x2: 0, y2: 1, stops: [{offset: 0, color: '#d4b184'}, {offset: 1, color: '#e4cea4'}]}"}},
      "data": {"name": "gold"},
      "layer": [
        {
          "transform": [{"filter": "datum.mfi >= 80"}],
          "mark": {"type": "area", "color": "#5b7a38", "opacity": 1},
          "encoding": {
            "x": {"field": "date", "type": "temporal", "scale": {"type": "utc", "domain": [{"year": 2020, "month": 2, "date": 11, "hours": 6, "utc": true}, {"year": 2021, "month": 1, "date": 9, "utc": true}]}, "axis": {"values": {"expr": "wk"}, "tickCount": 200, "labels": false, "ticks": false, "domain": false, "labelOverlap": false, "grid": true, "gridColor": {"condition": {"test": "utcdate(datum.value) <= 4", "value": "#a8916f"}, "value": "#c4ad88"}, "gridOpacity": 0.7, "title": null}},
            "y": {"field": "mfi", "type": "quantitative", "scale": {"domain": [-2.7, 103.3], "nice": false, "zero": false}, "axis": {"orient": "right", "values": [0, 10, 20, 30, 40, 50, 60, 70, 80, 90, 100], "tickCount": 200, "format": "d", "labelOverlap": false, "labelExpr": "(datum.value == 20 || datum.value == 50 || datum.value == 80) ? datum.label : ''", "tickOpacity": {"condition": {"test": "datum.value == 20 || datum.value == 50 || datum.value == 80", "value": 1}, "value": 0}, "grid": true, "gridColor": "#c4ad88", "gridOpacity": 0.45, "title": null}},
            "y2": {"datum": 80}
          }
        },
        {"data": {"values": [{}]}, "mark": {"type": "rule", "color": "#7b7b7b", "strokeWidth": 1.5}, "encoding": {"x": {"datum": {"year": 2020, "month": 2, "date": 11, "hours": 6, "utc": true}, "type": "temporal"}, "x2": {"datum": {"year": 2021, "month": 1, "date": 9, "utc": true}}, "y": {"datum": 80}}},
        {"data": {"values": [{}]}, "mark": {"type": "rule", "color": "#7b7b7b", "strokeWidth": 1.5}, "encoding": {"x": {"datum": {"year": 2020, "month": 2, "date": 11, "hours": 6, "utc": true}, "type": "temporal"}, "x2": {"datum": {"year": 2021, "month": 1, "date": 9, "utc": true}}, "y": {"datum": 20}}},
        {"mark": {"type": "line", "color": "#111111", "strokeWidth": 1.2}, "encoding": {"x": {"field": "date", "type": "temporal"}, "y": {"field": "mfi", "type": "quantitative"}}},
        {"data": {"values": [{}]}, "mark": {"type": "text", "align": "left", "baseline": "middle", "dx": 2, "dy": 7, "fontSize": 10, "color": "#4a6b2a"}, "encoding": {"x": {"datum": {"year": 2020, "month": 2, "date": 11, "hours": 6, "utc": true}, "type": "temporal"}, "y": {"datum": 103.3}, "text": {"value": "▲"}}},
        {"data": {"values": [{}]}, "mark": {"type": "text", "align": "left", "baseline": "middle", "dx": 13, "dy": 7, "font": "DejaVu Sans Mono", "fontSize": 10.5, "color": "#111111"}, "encoding": {"x": {"datum": {"year": 2020, "month": 2, "date": 11, "hours": 6, "utc": true}, "type": "temporal"}, "y": {"datum": 103.3}, "text": {"value": "MFI(14) 57.01"}}}
      ]
    },
    {
      "width": 1257,
      "height": 184,
      "view": {"stroke": "#8c7d68", "fill": {"expr": "{gradient: 'linear', x1: 0, y1: 0, x2: 0, y2: 1, stops: [{offset: 0, color: '#dcc092'}, {offset: 1, color: '#f1e7c2'}]}"}},
      "data": {"name": "gold"},
      "layer": [
        {
          "data": {"values": [{}]},
          "mark": {"type": "rule", "color": "#7b7b7b", "strokeWidth": 1.5},
          "encoding": {
            "x": {"datum": {"year": 2020, "month": 2, "date": 11, "hours": 6, "utc": true}, "type": "temporal", "scale": {"type": "utc", "domain": [{"year": 2020, "month": 2, "date": 11, "hours": 6, "utc": true}, {"year": 2021, "month": 1, "date": 9, "utc": true}]}, "axis": {"values": {"expr": "wk"}, "tickCount": 200, "labels": false, "ticks": false, "domain": false, "labelOverlap": false, "grid": true, "gridColor": {"condition": {"test": "utcdate(datum.value) <= 4", "value": "#a8916f"}, "value": "#c4ad88"}, "gridOpacity": 0.7, "title": null}},
            "x2": {"datum": {"year": 2021, "month": 1, "date": 9, "utc": true}},
            "y": {"datum": 80, "type": "quantitative", "scale": {"domain": [-3.5, 104.7], "nice": false, "zero": false}, "axis": {"orient": "right", "values": [0, 10, 20, 30, 40, 50, 60, 70, 80, 90, 100], "tickCount": 200, "format": "d", "labelOverlap": false, "labelExpr": "(datum.value == 20 || datum.value == 50 || datum.value == 80) ? datum.label : ''", "tickOpacity": {"condition": {"test": "datum.value == 20 || datum.value == 50 || datum.value == 80", "value": 1}, "value": 0}, "grid": true, "gridColor": "#c4ad88", "gridOpacity": 0.45, "title": null}}
          }
        },
        {"data": {"values": [{}]}, "mark": {"type": "rule", "color": "#7b7b7b", "strokeWidth": 1.5}, "encoding": {"x": {"datum": {"year": 2020, "month": 2, "date": 11, "hours": 6, "utc": true}, "type": "temporal"}, "x2": {"datum": {"year": 2021, "month": 1, "date": 9, "utc": true}}, "y": {"datum": 20}}},
        {"data": {"values": [{}]}, "mark": {"type": "rule", "color": "#6c778c", "strokeWidth": 1.2, "strokeDash": [7, 3, 2, 3]}, "encoding": {"x": {"datum": {"year": 2020, "month": 2, "date": 11, "hours": 6, "utc": true}, "type": "temporal"}, "x2": {"datum": {"year": 2021, "month": 1, "date": 9, "utc": true}}, "y": {"datum": 50}}},
        {"mark": {"type": "line", "color": "#ee1111", "strokeWidth": 1.1}, "encoding": {"x": {"field": "date", "type": "temporal"}, "y": {"field": "d", "type": "quantitative"}}},
        {"mark": {"type": "line", "color": "#111111", "strokeWidth": 2}, "encoding": {"x": {"field": "date", "type": "temporal"}, "y": {"field": "k", "type": "quantitative"}}},
        {"data": {"values": [{}]}, "mark": {"type": "text", "align": "left", "baseline": "middle", "dx": 2, "dy": 8, "font": "DejaVu Sans Mono", "fontSize": 10, "fontWeight": "bold", "color": "#111111"}, "encoding": {"x": {"datum": {"year": 2020, "month": 2, "date": 11, "hours": 6, "utc": true}, "type": "temporal"}, "y": {"datum": 104.7}, "text": {"value": "━"}}},
        {"data": {"values": [{}]}, "mark": {"type": "text", "align": "left", "baseline": "middle", "dx": 15, "dy": 8, "font": "DejaVu Sans Mono", "fontSize": 10, "color": "#111111"}, "encoding": {"x": {"datum": {"year": 2020, "month": 2, "date": 11, "hours": 6, "utc": true}, "type": "temporal"}, "y": {"datum": 104.7}, "text": {"value": "Slow STO %K(60) %D(3) 72.16,"}}},
        {"data": {"values": [{}]}, "mark": {"type": "text", "align": "left", "baseline": "middle", "dx": 189.6, "dy": 8, "font": "DejaVu Sans Mono", "fontSize": 10, "color": "#ee1111"}, "encoding": {"x": {"datum": {"year": 2020, "month": 2, "date": 11, "hours": 6, "utc": true}, "type": "temporal"}, "y": {"datum": 104.7}, "text": {"value": "69.42"}}}
      ]
    },
    {
      "width": 1257,
      "height": 521,
      "view": {"stroke": "#8c7d68", "fill": {"expr": "{gradient: 'linear', x1: 0, y1: 0, x2: 0, y2: 1, stops: [{offset: 0, color: '#eee1b7'}, {offset: 0.3, color: '#fbf7db'}, {offset: 1, color: '#dcc294'}]}"}},
      "resolve": {"scale": {"y": "independent"}},
      "layer": [
        {
          "data": {"name": "gold"},
          "transform": [{"window": [{"op": "lag", "field": "close", "as": "prev"}], "sort": [{"field": "date"}]}],
          "mark": {"type": "bar", "width": 3.2, "strokeWidth": 0.7},
          "encoding": {
            "x": {"field": "date", "type": "temporal", "scale": {"type": "utc", "domain": [{"year": 2020, "month": 2, "date": 11, "hours": 6, "utc": true}, {"year": 2021, "month": 1, "date": 9, "utc": true}]}, "axis": {"values": {"expr": "wk"}, "tickCount": 200, "labelOverlap": false, "labelExpr": "utcdate(datum.value) <= 4 ? (utcmonth(datum.value) == 0 ? '' + utcyear(datum.value) : utcFormat(datum.value, '%b')) : '' + utcdate(datum.value)", "labelFontWeight": {"condition": {"test": "utcdate(datum.value) <= 4", "value": "bold"}, "value": "normal"}, "labelAlign": {"condition": {"test": "utcdate(datum.value) == 1 && (utcmonth(datum.value) == 9 || utcmonth(datum.value) == 4)", "value": "left"}, "value": "center"}, "labelOffset": {"condition": {"test": "utcdate(datum.value) == 1 && (utcmonth(datum.value) == 9 || utcmonth(datum.value) == 4)", "value": -4}, "value": 0}, "ticks": false, "tickSize": 0, "labelPadding": 3, "domain": false, "grid": true, "gridColor": {"condition": {"test": "utcdate(datum.value) <= 4", "value": "#a8916f"}, "value": "#c4ad88"}, "gridOpacity": 0.7, "title": null}},
            "y": {"field": "volume", "type": "quantitative", "scale": {"domain": [0, 251.5], "nice": false}, "axis": {"orient": "left", "values": [10, 20, 30, 40, 50, 60, 70, 80], "tickCount": 200, "labelOverlap": false, "labelExpr": "datum.value + 'M'", "grid": false, "tickSize": 3, "title": null}},
            "fill": {"condition": {"test": "datum.close < datum.prev", "value": "#e2a18c"}, "value": "#ab9f8a"},
            "stroke": {"condition": {"test": "datum.close < datum.prev", "value": "#cf6f5b"}, "value": "#7f7564"}
          }
        },
        {
          "layer": [
            {
              "data": {"name": "gold"},
              "transform": [{"window": [{"op": "lag", "field": "close", "as": "prev"}], "sort": [{"field": "date"}]}],
              "layer": [
                {
                  "mark": {"type": "rule", "strokeWidth": 1},
                  "encoding": {
                    "x": {"field": "date", "type": "temporal"},
                    "y": {"field": "low", "type": "quantitative", "scale": {"type": "log", "domain": [1429.3, 2119.1], "nice": false}, "axis": {"orient": "right", "values": [1450, 1475, 1500, 1525, 1550, 1575, 1600, 1625, 1650, 1675, 1700, 1725, 1750, 1775, 1800, 1825, 1850, 1875, 1900, 1925, 1950, 1975, 2000, 2025, 2050, 2075, 2100], "tickCount": 200, "labelOverlap": false, "format": "d", "grid": true, "gridColor": "#c4ad88", "gridOpacity": 0.5, "title": null}},
                    "y2": {"field": "high"},
                    "color": {"condition": {"test": "datum.close < datum.prev", "value": "#cc0033"}, "value": "#000000"}
                  }
                },
                {
                  "mark": {"type": "bar", "width": 2.4, "strokeWidth": 0.9},
                  "encoding": {
                    "x": {"field": "date", "type": "temporal"},
                    "y": {"field": "open", "type": "quantitative"},
                    "y2": {"field": "close"},
                    "fill": {"condition": [{"test": "datum.close >= datum.open", "value": "#ffffff"}, {"test": "datum.close < datum.prev", "value": "#cc0033"}], "value": "#000000"},
                    "stroke": {"condition": {"test": "datum.close < datum.prev", "value": "#cc0033"}, "value": "#000000"}
                  }
                },
                {"mark": {"type": "line", "color": "#e8112d", "strokeWidth": 1.2}, "encoding": {"x": {"field": "date", "type": "temporal"}, "y": {"field": "ema50", "type": "quantitative"}}},
                {"mark": {"type": "line", "color": "#ff00ff", "strokeWidth": 1.5}, "encoding": {"x": {"field": "date", "type": "temporal"}, "y": {"field": "ma200", "type": "quantitative"}}},
                {"mark": {"type": "line", "color": "#1a1a8c", "strokeWidth": 1.2}, "encoding": {"x": {"field": "date", "type": "temporal"}, "y": {"field": "ma20", "type": "quantitative"}}},
                {"mark": {"type": "line", "color": "#0a6a0a", "strokeWidth": 2.6, "strokeDash": [2.5, 3]}, "encoding": {"x": {"field": "date", "type": "temporal"}, "y": {"field": "ema10", "type": "quantitative"}}}
              ]
            },
            {
              "data": {"name": "hilo"},
              "layer": [
                {"transform": [{"filter": "datum.kind == 'hi'"}], "mark": {"type": "point", "shape": "triangle-down", "size": 30, "filled": true, "fill": "white", "stroke": "#999999", "strokeWidth": 1, "yOffset": -3, "opacity": 1}, "encoding": {"x": {"field": "date", "type": "temporal"}, "y": {"field": "price", "type": "quantitative"}}},
                {"transform": [{"filter": "datum.kind == 'hi'"}], "mark": {"type": "point", "shape": "M-1,-0.3H1V0.3H-1Z", "size": 1600, "filled": true, "fill": "white", "stroke": "#999999", "strokeWidth": 1, "yOffset": -11, "opacity": 1}, "encoding": {"x": {"field": "date", "type": "temporal"}, "y": {"field": "price", "type": "quantitative"}}},
                {"transform": [{"filter": "datum.kind == 'hi'"}], "mark": {"type": "text", "fontSize": 9.5, "color": "#111111", "baseline": "middle", "yOffset": -11}, "encoding": {"x": {"field": "date", "type": "temporal"}, "y": {"field": "price", "type": "quantitative"}, "text": {"field": "price", "type": "quantitative", "format": ".2f"}}},
                {"transform": [{"filter": "datum.kind == 'lo'"}], "mark": {"type": "point", "shape": "triangle-up", "size": 30, "filled": true, "fill": "white", "stroke": "#999999", "strokeWidth": 1, "yOffset": 4, "opacity": 1}, "encoding": {"x": {"field": "date", "type": "temporal"}, "y": {"field": "price", "type": "quantitative"}}},
                {"transform": [{"filter": "datum.kind == 'lo'"}], "mark": {"type": "point", "shape": "M-1,-0.3H1V0.3H-1Z", "size": 1600, "filled": true, "fill": "white", "stroke": "#999999", "strokeWidth": 1, "yOffset": 13, "opacity": 1}, "encoding": {"x": {"field": "date", "type": "temporal"}, "y": {"field": "price", "type": "quantitative"}}},
                {"transform": [{"filter": "datum.kind == 'lo'"}], "mark": {"type": "text", "fontSize": 9.5, "color": "#111111", "baseline": "middle", "yOffset": 13}, "encoding": {"x": {"field": "date", "type": "temporal"}, "y": {"field": "price", "type": "quantitative"}, "text": {"field": "price", "type": "quantitative", "format": ".2f"}}}
              ]
            },
            {
              "data": {"values": [{}]},
              "layer": [
                {"mark": {"type": "text", "align": "left", "baseline": "middle", "dx": 13, "dy": 7, "font": "DejaVu Sans Mono", "fontSize": 10.5, "color": "#111111"}, "encoding": {"x": {"datum": {"year": 2020, "month": 2, "date": 11, "hours": 6, "utc": true}, "type": "temporal"}, "y": {"datum": 2119.1}, "text": {"value": "$GOLD (Daily) 1998.70"}}},
                {"mark": {"type": "text", "align": "left", "baseline": "middle", "dx": 3, "dy": 18, "fontSize": 10.5, "color": "#1a1a9c"}, "encoding": {"x": {"datum": {"year": 2020, "month": 2, "date": 11, "hours": 6, "utc": true}, "type": "temporal"}, "y": {"datum": 2119.1}, "text": {"value": "━ MA(20) 1964.31"}}},
                {"mark": {"type": "text", "align": "left", "baseline": "middle", "dx": 3, "dy": 29, "fontSize": 10.5, "color": "#dd1030"}, "encoding": {"x": {"datum": {"year": 2020, "month": 2, "date": 11, "hours": 6, "utc": true}, "type": "temporal"}, "y": {"datum": 2119.1}, "text": {"value": "━ EMA(50) 1876.39"}}},
                {"mark": {"type": "text", "align": "left", "baseline": "middle", "dx": 3, "dy": 40, "fontSize": 10.5, "color": "#ee00ee"}, "encoding": {"x": {"datum": {"year": 2020, "month": 2, "date": 11, "hours": 6, "utc": true}, "type": "temporal"}, "y": {"datum": 2119.1}, "text": {"value": "━ MA(200) 1659.98"}}},
                {"mark": {"type": "text", "align": "left", "baseline": "middle", "dx": 3, "dy": 51, "fontSize": 10.5, "color": "#0a6a0a"}, "encoding": {"x": {"datum": {"year": 2020, "month": 2, "date": 11, "hours": 6, "utc": true}, "type": "temporal"}, "y": {"datum": 2119.1}, "text": {"value": "╍ EMA(10) 1979.73"}}},
                {"mark": {"type": "text", "align": "left", "baseline": "middle", "dx": 3, "dy": 62, "fontSize": 10.5, "color": "#555555"}, "encoding": {"x": {"datum": {"year": 2020, "month": 2, "date": 11, "hours": 6, "utc": true}, "type": "temporal"}, "y": {"datum": 2119.1}, "text": {"value": "▮ Volume 27,021,900"}}},
                {"mark": {"type": "rect", "fill": "#b9ecd0", "fillOpacity": 0.75, "stroke": "#1d6b1d", "strokeWidth": 2.5}, "encoding": {"x": {"datum": {"year": 2020, "month": 9, "date": 13, "hours": 3, "utc": true}, "type": "temporal"}, "x2": {"datum": {"year": 2020, "month": 10, "date": 16, "hours": 15, "utc": true}}, "y": {"datum": 1773.3}, "y2": {"datum": 1657.6}}},
                {"mark": {"type": "point", "shape": "M0,-1L0.95,0L0.38,0L0.38,1L-0.38,1L-0.38,0L-0.95,0Z", "size": 225, "filled": true, "color": "#1d6b1d", "opacity": 1}, "encoding": {"x": {"datum": {"year": 2020, "month": 9, "date": 29, "utc": true}, "type": "temporal"}, "y": {"datum": 1641.2}}},
                {"mark": {"type": "text", "align": "center", "baseline": "top", "fontSize": 22, "fontWeight": "bold", "lineHeight": 25, "color": "#1b6b1b"}, "encoding": {"x": {"datum": {"year": 2020, "month": 9, "date": 29, "utc": true}, "type": "temporal"}, "y": {"datum": 1629.0}, "text": {"value": ["6-MONTH", "TARGET"]}}},
                {"mark": {"type": "rule", "color": "#8a8a8a", "strokeWidth": 1.3}, "encoding": {"x": {"datum": {"year": 2020, "month": 8, "date": 19, "hours": 13, "utc": true}, "type": "temporal"}, "x2": {"datum": {"year": 2020, "month": 9, "date": 7, "utc": true}}, "y": {"datum": 1987.2}, "y2": {"datum": 2096.8}}},
                {"mark": {"type": "rule", "color": "#8a8a8a", "strokeWidth": 1.3}, "encoding": {"x": {"datum": {"year": 2020, "month": 8, "date": 19, "hours": 13, "utc": true}, "type": "temporal"}, "x2": {"datum": {"year": 2020, "month": 9, "date": 9, "hours": 12, "utc": true}}, "y": {"datum": 1987.2}, "y2": {"datum": 2096.8}}},
                {"mark": {"type": "rect", "fill": "white", "stroke": "#555555", "strokeWidth": 1}, "encoding": {"x": {"datum": {"year": 2020, "month": 9, "date": 6, "hours": 18, "utc": true}, "type": "temporal"}, "x2": {"datum": {"year": 2020, "month": 12, "date": 12, "hours": 12, "utc": true}}, "y": {"datum": 2487.5}, "y2": {"datum": 2096.8}}},
                {"mark": {"type": "text", "align": "left", "baseline": "top", "dx": 3.5, "fontSize": 19.2, "fontWeight": "bold", "lineHeight": 22, "color": "#0a0ae6"}, "encoding": {"x": {"datum": {"year": 2020, "month": 9, "date": 6, "hours": 18, "utc": true}, "type": "temporal"}, "y": {"datum": 2479.96}, "text": {"value": ["After last Tuesday's sharp decline,", "gold prices are rebounding. If prices", "close back-to-back above $2000 this", "week, then the Warren Buffet message", "may be enough to retest the $2089.20", "high and perhaps break marginally", "above $2100. But if gold fails to close", "back-to-back above $2000, then we", "see the potential for another sharp", "decline in towards our 6-month target."]}}}
              ]
            }
          ]
        }
      ]
    },
    {
      "width": 1257,
      "height": 12,
      "view": {"stroke": null},
      "data": {"values": []},
      "mark": "point"
    },
    {
      "width": 1257,
      "height": 186,
      "view": {"stroke": "#8c7d68", "fill": {"expr": "{gradient: 'linear', x1: 0, y1: 0, x2: 0, y2: 1, stops: [{offset: 0, color: '#e3cda1'}, {offset: 1, color: '#cea679'}]}"}},
      "data": {"name": "gold"},
      "layer": [
        {
          "mark": {"type": "bar", "width": 3.2, "fill": "#4d9ccc", "stroke": "#25648f", "strokeWidth": 0.6},
          "encoding": {
            "x": {"field": "date", "type": "temporal", "scale": {"type": "utc", "domain": [{"year": 2020, "month": 2, "date": 11, "hours": 6, "utc": true}, {"year": 2021, "month": 1, "date": 9, "utc": true}]}, "axis": {"values": {"expr": "wk"}, "tickCount": 200, "labelOverlap": false, "labelExpr": "utcdate(datum.value) <= 4 ? (utcmonth(datum.value) == 0 ? '' + utcyear(datum.value) : utcFormat(datum.value, '%b')) : '' + utcdate(datum.value)", "labelFontWeight": {"condition": {"test": "utcdate(datum.value) <= 4", "value": "bold"}, "value": "normal"}, "labelAlign": {"condition": {"test": "utcdate(datum.value) == 1 && (utcmonth(datum.value) == 9 || utcmonth(datum.value) == 4)", "value": "left"}, "value": "center"}, "labelOffset": {"condition": {"test": "utcdate(datum.value) == 1 && (utcmonth(datum.value) == 9 || utcmonth(datum.value) == 4)", "value": -4}, "value": 0}, "ticks": false, "tickSize": 0, "labelPadding": 3, "domain": false, "grid": true, "gridColor": {"condition": {"test": "utcdate(datum.value) <= 4", "value": "#a8916f"}, "value": "#c4ad88"}, "gridOpacity": 0.7, "title": null}},
            "y": {"field": "hist", "type": "quantitative", "scale": {"domain": [-33.4, 72.5], "nice": false, "zero": false}, "axis": {"orient": "right", "values": [-30, -20, -10, 0, 10, 20, 30, 40, 50, 60], "tickCount": 200, "format": "d", "labelOverlap": false, "grid": true, "gridColor": "#c4ad88", "gridOpacity": 0.45, "title": null}},
            "y2": {"datum": 0}
          }
        },
        {"mark": {"type": "line", "color": "#ee1111", "strokeWidth": 1.2}, "encoding": {"x": {"field": "date", "type": "temporal"}, "y": {"field": "signal", "type": "quantitative"}}},
        {"mark": {"type": "line", "color": "#111111", "strokeWidth": 2}, "encoding": {"x": {"field": "date", "type": "temporal"}, "y": {"field": "macd", "type": "quantitative"}}},
        {"data": {"values": [{}]}, "mark": {"type": "text", "align": "left", "baseline": "middle", "dx": 2, "dy": 10, "font": "DejaVu Sans Mono", "fontSize": 10, "fontWeight": "bold", "color": "#111111"}, "encoding": {"x": {"datum": {"year": 2020, "month": 2, "date": 11, "hours": 6, "utc": true}, "type": "temporal"}, "y": {"datum": 72.5}, "text": {"value": "━"}}},
        {"data": {"values": [{}]}, "mark": {"type": "text", "align": "left", "baseline": "middle", "dx": 15, "dy": 10, "font": "DejaVu Sans Mono", "fontSize": 10, "color": "#111111"}, "encoding": {"x": {"datum": {"year": 2020, "month": 2, "date": 11, "hours": 6, "utc": true}, "type": "temporal"}, "y": {"datum": 72.5}, "text": {"value": "MACD(12,26,9) 40.295,"}}},
        {"data": {"values": [{}]}, "mark": {"type": "text", "align": "left", "baseline": "middle", "dx": 147.4, "dy": 10, "font": "DejaVu Sans Mono", "fontSize": 10, "color": "#ee1111"}, "encoding": {"x": {"datum": {"year": 2020, "month": 2, "date": 11, "hours": 6, "utc": true}, "type": "temporal"}, "y": {"datum": 72.5}, "text": {"value": "49.381,"}}},
        {"data": {"values": [{}]}, "mark": {"type": "text", "align": "left", "baseline": "middle", "dx": 195.6, "dy": 10, "font": "DejaVu Sans Mono", "fontSize": 10, "color": "#3399dd"}, "encoding": {"x": {"datum": {"year": 2020, "month": 2, "date": 11, "hours": 6, "utc": true}, "type": "temporal"}, "y": {"datum": 72.5}, "text": {"value": "-9.086"}}},
        {"data": {"values": [{}]}, "mark": {"type": "point", "shape": "M0,-1L0.95,0L0.38,0L0.38,1L-0.38,1L-0.38,0L-0.95,0Z", "size": 225, "filled": true, "color": "#1d6b1d", "opacity": 1}, "encoding": {"x": {"datum": {"year": 2020, "month": 3, "date": 16, "utc": true}, "type": "temporal"}, "y": {"datum": 65.4}}},
        {"data": {"values": [{}]}, "mark": {"type": "text", "align": "center", "baseline": "top", "fontSize": 20, "fontWeight": "bold", "color": "#1b6b1b"}, "encoding": {"x": {"datum": {"year": 2020, "month": 3, "date": 16, "utc": true}, "type": "temporal"}, "y": {"datum": 56.9}, "text": {"value": "6-MONTH LOW"}}}
      ]
    }
  ]
}
